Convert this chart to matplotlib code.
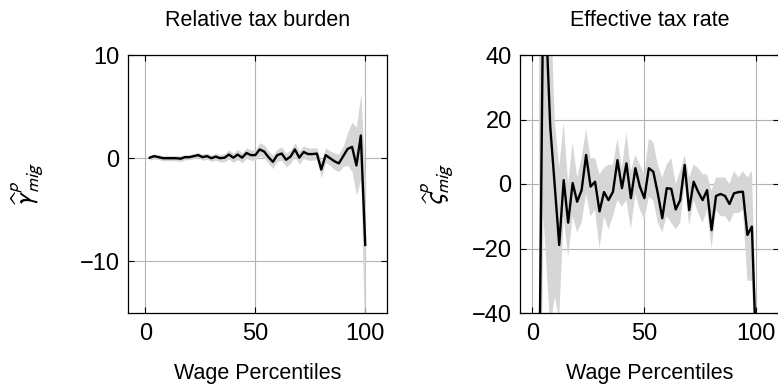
import matplotlib
matplotlib.use("Agg")
import matplotlib.pyplot as plt

plt.rcParams.update({
    "font.family": ["Liberation Sans", "DejaVu Sans"],
    "font.size": 15,
    "mathtext.fontset": "stixsans",
    "axes.linewidth": 0.9,
    "xtick.direction": "in",
    "ytick.direction": "in",
    "xtick.top": True,
    "ytick.right": True,
    "xtick.major.size": 4,
    "ytick.major.size": 4,
    "xtick.major.pad": 7,
    "ytick.major.pad": 6,
    "xtick.labelsize": 17,
    "ytick.labelsize": 17,
})

# ---- Relative tax burden (left panel) ----
burden_x = list(range(2, 101, 2))
burden_est = [
    0.05, 0.2, 0.1, 0.0, 0.0, 0.0, 0.0, -0.05, 0.1, 0.1,
    0.2, 0.3, 0.1, 0.2, 0.0, 0.15, 0.0, 0.05, 0.35, 0.05,
    0.35, 0.05, 0.5, 0.3, 0.3, 0.85, 0.65, 0.1, -0.35, 0.3,
    0.45, -0.15, 0.15, 0.85, 0.05, 0.6, 0.4, 0.4, 0.45, -1.1,
    0.3, 0.0, -0.3, -0.5, 0.2, 0.9, 1.1, -0.7, 2.2, -8.4,
]
burden_hi = [
    0.3, 0.4, 0.35, 0.25, 0.25, 0.25, 0.25, 0.25, 0.35, 0.35,
    0.45, 0.55, 0.4, 0.5, 0.3, 0.5, 0.35, 0.45, 0.8, 0.5,
    0.85, 0.55, 1.0, 0.8, 0.8, 1.5, 1.3, 0.7, 0.3, 0.9,
    1.1, 0.5, 0.8, 1.5, 0.7, 1.2, 1.0, 1.0, 1.0, -0.3,
    1.0, 0.7, 0.5, 0.4, 1.2, 2.5, 3.5, 3.0, 6.3, -2.0,
]
burden_lo = [
    -0.2, -0.05, -0.15, -0.25, -0.25, -0.25, -0.25, -0.35, -0.15, -0.15,
    -0.05, 0.05, -0.2, -0.1, -0.3, -0.2, -0.35, -0.35, -0.1, -0.4,
    -0.15, -0.45, 0.0, -0.2, -0.2, 0.2, 0.0, -0.5, -1.0, -0.3,
    -0.2, -0.8, -0.5, 0.2, -0.6, 0.0, -0.2, -0.2, -0.1, -1.9,
    -0.4, -0.7, -1.1, -1.3, -0.8, -0.7, -1.3, -3.6, -2.0, -20.0,
]

# ---- Effective tax rate (right panel) ----
rate_x = [3, 5] + list(range(8, 101, 2))
rate_est = [
    -70, 70, 17.8, -0.5, -18.9, 1.2, -12, 0.3, -5.5, -1.9,
    9, -0.8, 0.7, -8.5, -2.5, -5, -2.4, 7.4, -1.3, 6.4,
    -4.4, 4.9, -0.8, -4.4, 4.9, 3.8, -2.9, -10.6, -1.3, -1.5,
    -7.9, -5, 5.9, -8.1, 0.7, -2.4, -5, -1.9, -14.3, -3.7,
    -3.1, -3.7, -6.2, -2.9, -2.5, -2.4, -15.8, -13.2, -55,
]
rate_hi = [
    80, 150, 60, 20, 5, 19, 0, 13, 2, 8,
    17, 8, 8, 3, 5, 6, 6, 14, 5, 16,
    4, 9, 6, 3, 14, 13, 6, 2, 6, 8,
    0, 4, 9, 2, 6, 5, 3, 3, -2, 2,
    2, 2, 0, 4, 2, 4, 2, 4, -45,
]
rate_lo = [
    -120, -10, -45, -35, -42, -10, -23, -10, -15, -12,
    -3, -10, -8, -20, -10, -14, -10, -5, -7, -5,
    -14, -3, -8, -11, -4, -5, -12, -15, -10, -12,
    -14, -12, 0, -13, -5, -9, -12, -8, -20, -8,
    -10, -10, -12, -9, -9, -8, -30, -30, -65,
]

BAND = "#d6d6d6"
GRID = "#b4b4b4"

fig = plt.figure(figsize=(7.78, 3.88), dpi=100)
ax1 = fig.add_axes([128 / 778, 1 - 313 / 388, 259 / 778, 258 / 388])
ax2 = fig.add_axes([520 / 778, 1 - 313 / 388, 259 / 778, 258 / 388])

panels = [
    (ax1, burden_x, burden_est, burden_lo, burden_hi, "Relative tax burden",
     r"$\widehat{\gamma}^{p}_{mig}$", (-7.9, 109.9), (-15, 10), [-10, 0, 10]),
    (ax2, rate_x, rate_est, rate_lo, rate_hi, "Effective tax rate",
     r"$\widehat{\varsigma}^{p}_{mig}$", (-5.5, 110.1), (-40, 40),
     [-40, -20, 0, 20, 40]),
]

for ax, x, est, lo, hi, title, ylab, xlim, ylim, yticks in panels:
    ax.fill_between(x, lo, hi, color=BAND, linewidth=0, zorder=1)
    ax.plot(x, est, color="black", linewidth=1.7, zorder=3)
    ax.set_xlim(*xlim)
    ax.set_ylim(*ylim)
    ax.set_xticks([0, 50, 100])
    ax.set_yticks(yticks)
    ax.grid(True, color=GRID, linewidth=0.8)
    ax.set_axisbelow(True)
    ax.set_title(title, fontsize=15.5, pad=21)
    ax.set_xlabel("Wage Percentiles", fontsize=15.5, labelpad=13)
    ax.set_ylabel(ylab, fontsize=19)

ax1.yaxis.set_label_coords(-0.32, 0.5)
ax2.yaxis.set_label_coords(-0.25, 0.5)

fig.savefig("out.png", dpi=100)
